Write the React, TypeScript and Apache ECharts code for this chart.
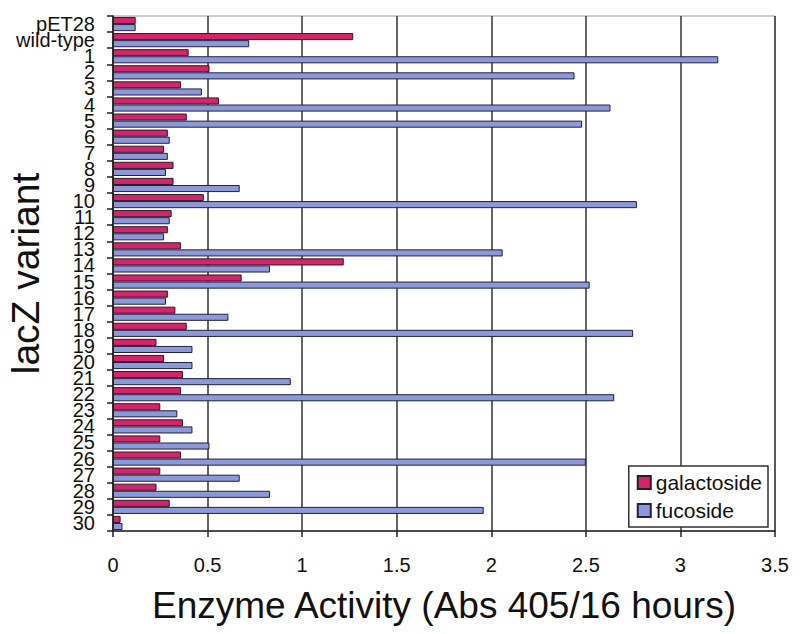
import React, { useEffect, useRef } from "react";
import * as echarts from "echarts";

const categories = [
  "pET28", "wild-type", "1", "2", "3", "4", "5", "6", "7", "8", "9", "10",
  "11", "12", "13", "14", "15", "16", "17", "18", "19", "20", "21", "22",
  "23", "24", "25", "26", "27", "28", "29", "30",
];

const galactoside = [
  0.12, 1.27, 0.40, 0.51, 0.36, 0.56, 0.39, 0.29, 0.27, 0.32, 0.32, 0.48,
  0.31, 0.29, 0.36, 1.22, 0.68, 0.29, 0.33, 0.39, 0.23, 0.27, 0.37, 0.36,
  0.25, 0.37, 0.25, 0.36, 0.25, 0.23, 0.30, 0.04,
];

const fucoside = [
  0.12, 0.72, 3.20, 2.44, 0.47, 2.63, 2.48, 0.30, 0.29, 0.28, 0.67, 2.77,
  0.30, 0.27, 2.06, 0.83, 2.52, 0.28, 0.61, 2.75, 0.42, 0.42, 0.94, 2.65,
  0.34, 0.42, 0.51, 2.50, 0.67, 0.83, 1.96, 0.05,
];

const FONT = "'Liberation Sans', Arial, sans-serif";

export default function App() {
  const ref = useRef<HTMLDivElement>(null);

  useEffect(() => {
    document.body.style.margin = "0";
    if (!ref.current) return;
    const chart = echarts.init(ref.current, undefined, { renderer: "svg" });
    chart.setOption({
      animation: false,
      backgroundColor: "#ffffff",
      textStyle: { fontFamily: FONT, color: "#000" },
      grid: {
        left: 113,
        right: 25,
        top: 16,
        bottom: 103,
        outerBoundsMode: "none",
        containLabel: false,
        show: true,
        borderColor: "#9a9a9a",
        borderWidth: 1,
        backgroundColor: "transparent",
      },
      legend: {
        orient: "vertical",
        right: 32,
        bottom: 107,
        data: ["galactoside", "fucoside"],
        backgroundColor: "#ffffff",
        borderColor: "#333",
        borderWidth: 1.5,
        padding: [6, 6, 6, 8],
        itemWidth: 13,
        itemHeight: 13,
        itemGap: 7,
        icon: "rect",
        textStyle: { fontFamily: FONT, fontSize: 21, color: "#111" },
      },
      xAxis: {
        type: "value",
        min: 0,
        max: 3.5,
        interval: 0.5,
        name: "Enzyme Activity (Abs 405/16 hours)",
        nameLocation: "middle",
        nameGap: 56,
        nameMoveOverlap: false,
        nameTextStyle: { fontFamily: FONT, fontSize: 37, color: "#111" },
        axisLine: { show: true, lineStyle: { color: "#222", width: 1.5 } },
        axisTick: { show: true, length: 6, lineStyle: { color: "#222", width: 1.5 } },
        axisLabel: { fontFamily: FONT, fontSize: 20, color: "#111", margin: 24 },
        splitLine: { show: true, lineStyle: { color: "#333", width: 1.5 } },
      },
      yAxis: {
        type: "category",
        data: categories,
        inverse: true,
        name: "lacZ variant",
        nameLocation: "middle",
        nameGap: 68,
        nameMoveOverlap: false,
        nameTextStyle: { fontFamily: FONT, fontSize: 39, color: "#111" },
        axisLine: { show: true, lineStyle: { color: "#222", width: 1.5 } },
        axisTick: { show: true, length: 6, lineStyle: { color: "#222", width: 1.5 } },
        axisLabel: {
          interval: 0,
          fontFamily: FONT,
          fontSize: 20,
          lineHeight: 16,
          color: "#111",
          margin: 18,
        },
        splitLine: { show: false },
      },
      series: [
        {
          name: "galactoside",
          type: "bar",
          data: galactoside,
          barGap: "0%",
          barCategoryGap: "12%",
          itemStyle: { color: "#d6246a", borderColor: "#2a1a2a", borderWidth: 1 },
        },
        {
          name: "fucoside",
          type: "bar",
          data: fucoside,
          barGap: "0%",
          barCategoryGap: "12%",
          itemStyle: { color: "#8d98d8", borderColor: "#1f2240", borderWidth: 1 },
        },
      ],
    });
    return () => chart.dispose();
  }, []);

  return (
    <div
      ref={ref}
      style={{ position: "fixed", left: 0, top: 0, width: 800, height: 634 }}
    />
  );
}
